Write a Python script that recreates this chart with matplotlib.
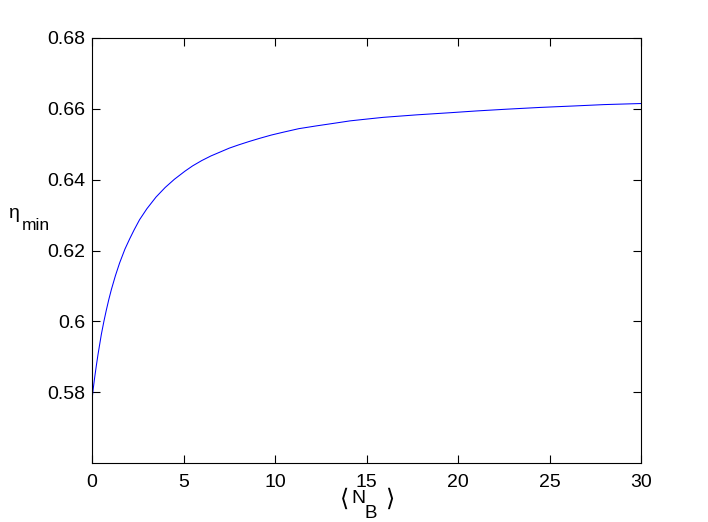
#!/usr/bin/env python
# encoding=utf-8
"""Minimum efficiency eta_min versus mean photon number <N_B>."""
import matplotlib
matplotlib.use('Agg')
import matplotlib.pyplot as plt

# Values
n_b = [0, 0.07, 0.15, 0.24, 0.33, 0.42, 0.51, 0.65, 0.78, 0.92, 1.06,
       1.28, 1.51, 1.80, 2.06, 2.3, 2.6, 3.0, 3.5, 4.0, 4.5, 5.08, 5.5,
       6.0, 6.5, 7.0, 7.5, 8.0, 8.6, 9.18, 9.8, 10.45, 11.3, 12.28, 13.2,
       14.1, 15.0, 15.92, 17.74, 19.56, 21.0, 22.66, 24.5, 26.3, 28.0, 30.0]
eta_min = [0.5778, 0.5811, 0.5843, 0.5876, 0.5907, 0.5935, 0.5963, 0.6000,
           0.6031, 0.6062, 0.6090, 0.6129, 0.6165, 0.6204, 0.6233, 0.6258,
           0.6287, 0.6318, 0.6351, 0.6378, 0.6401, 0.6424, 0.6439, 0.6454,
           0.6467, 0.6478, 0.6489, 0.6498, 0.6508, 0.6517, 0.6526, 0.6534,
           0.6544, 0.6552, 0.6559, 0.6566, 0.6571, 0.6576, 0.6583, 0.6589,
           0.6594, 0.6599, 0.6604, 0.6608, 0.6612, 0.6615]

x_ticks = [0, 5, 10, 15, 20, 25, 30]
y_ticks = [0.58, 0.60, 0.62, 0.64, 0.66, 0.68]
y_tick_labels = ['0.58', '0.6', '0.62', '0.64', '0.66', '0.68']

W, H = 708, 522
plt.rcParams['font.family'] = ['Liberation Sans', 'DejaVu Sans']

fig = plt.figure(figsize=(W / 100, H / 100), dpi=100)
ax = fig.add_axes([92 / W, 59 / H, 549 / W, 425 / H])

ax.plot(n_b, eta_min, color='#0000ff', linewidth=0.75)

ax.set_xlim(0, 30)
ax.set_ylim(0.56, 0.68)
ax.set_xticks(x_ticks)
ax.set_yticks(y_ticks)
ax.set_yticklabels(y_tick_labels)

ax.tick_params(direction='in', top=True, right=True, length=6, width=0.8,
               labelsize=14)
ax.tick_params(axis='x', pad=8)
ax.tick_params(axis='y', pad=5)
for side in ax.spines.values():
    side.set_linewidth(0.8)


def put(text, x, y, size, **kw):
    # place a label piece at pixel coords (y measured from the top)
    fig.text(x / W, 1 - y / H, text, fontsize=size, **kw)


# y label: eta with "min" subscript (MATLAB-style)
put('\u03b7', 9, 217.5, 14, va='baseline')
put('min', 22, 229.5, 12.5, va='baseline')

# x label: < N_B >
put('\u27e8', 344.5, 499, 17, ha='center', va='center',
    family=['DejaVu Sans'])
put('N', 351.5, 503, 14, va='baseline')
put('B', 364.5, 518, 13.5, va='baseline')
put('\u27e9', 389.5, 499, 17, ha='center', va='center',
    family=['DejaVu Sans'])

fig.savefig('out.png', dpi=100)
plt.close(fig)
